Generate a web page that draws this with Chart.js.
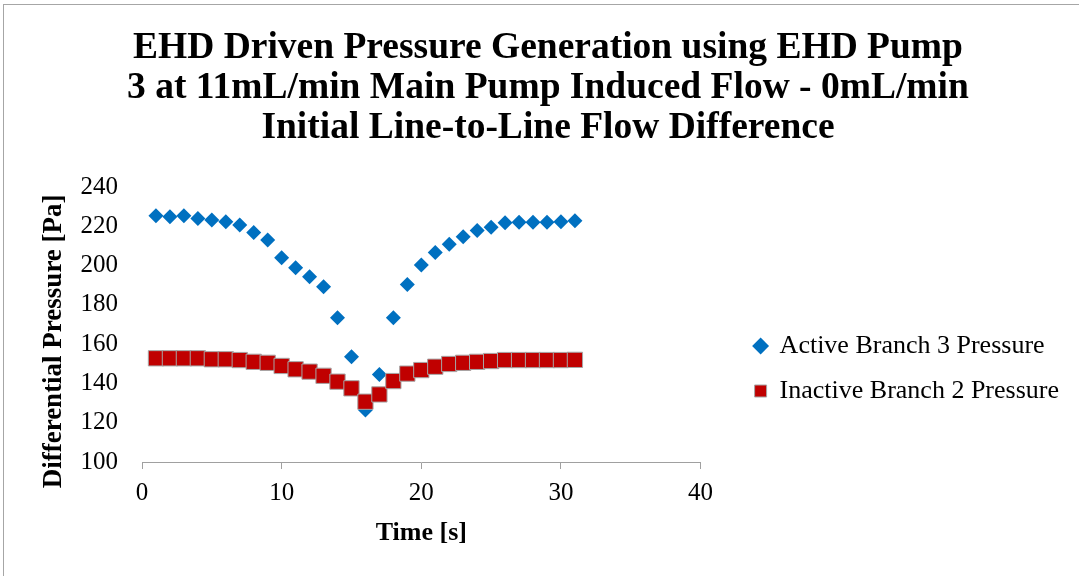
<!DOCTYPE html>
<html>
<head>
<meta charset="utf-8">
<script src="https://cdn.jsdelivr.net/npm/chart.js@4/dist/chart.umd.min.js"></script>
<style>
  body { margin: 0; background: #fff; }
  #wrap { width: 1079px; height: 576px; }
</style>
</head>
<body>
<div id="wrap"><canvas id="pressureChart" width="1079" height="576"></canvas></div>
<script>
// values
const timeSec = [1, 2, 3, 4, 5, 6, 7, 8, 9, 10, 11, 12, 13, 14, 15, 16,
  17, 18, 19, 20, 21, 22, 23, 24, 25, 26, 27, 28, 29, 30, 31];
const activeBranch3 = [225.4, 224.9, 225.4, 224.0, 223.2, 222.3, 220.6, 216.9, 213.0, 204.0,
  198.9, 194.3, 189.2, 173.5, 153.6, 126.5, 144.6, 173.5, 190.4, 200.3,
  206.7, 210.8, 214.7, 217.8, 219.5, 221.8, 222.0, 222.0, 222.0, 222.3, 222.8];
const inactiveBranch2 = [152.8, 152.8, 152.8, 152.8, 152.3, 152.3, 151.9, 151.0, 150.5, 148.9,
  147.2, 146.0, 143.9, 140.9, 137.5, 130.7, 134.4, 141.2, 145.0, 146.8,
  148.5, 149.9, 150.5, 151.0, 151.4, 151.9, 151.9, 151.9, 151.9, 151.9, 152.0];
const seriesNames = ['Active Branch 3 Pressure', 'Inactive Branch 2 Pressure'];
const titleLines = ['EHD Driven Pressure Generation using EHD Pump',
  '3 at 11mL/min Main Pump Induced Flow - 0mL/min',
  'Initial Line-to-Line Flow Difference'];
const xTitle = 'Time [s]';
const yTitle = 'Differential Pressure [Pa]';

const serif = "'Liberation Serif', 'Times New Roman', serif";

function toPoints(xs, ys) {
  return xs.map((x, i) => ({x: x, y: ys[i]}));
}

// white page with the thin grey frame of the original figure
const frame = {
  id: 'frame',
  beforeDraw(chart) {
    const ctx = chart.ctx;
    ctx.save();
    ctx.fillStyle = '#ffffff';
    ctx.fillRect(0, 0, chart.width, chart.height);
    ctx.strokeStyle = '#a6a6a6';
    ctx.lineWidth = 1;
    ctx.strokeRect(3.5, 4.5, chart.width + 20, chart.height + 20);
    ctx.restore();
  }
};

const data = {
  datasets: [{
    label: seriesNames[0],
    data: toPoints(timeSec, activeBranch3),
    pointStyle: 'rectRot',
    pointRadius: 7.5,
    pointHoverRadius: 7.5,
    backgroundColor: '#0070C0',
    borderColor: '#0070C0',
    borderWidth: 0,
    order: 1
  }, {
    label: seriesNames[1],
    data: toPoints(timeSec, inactiveBranch2),
    pointStyle: 'rect',
    pointRadius: 10.8,
    pointHoverRadius: 10.8,
    backgroundColor: '#C00000',
    borderColor: '#a6a6a6',
    borderWidth: 1,
    order: 0
  }]
};

const config = {
  type: 'scatter',
  data,
  options: {
    responsive: false,
    animation: false,
    layout: {padding: {left: 27, right: 10, top: 0, bottom: 27}},
    plugins: {
      tooltip: {enabled: false},
      title: {
        display: true,
        text: titleLines,
        color: '#000',
        font: {family: serif, size: 37.5, weight: 'bold', lineHeight: 40 / 37.5},
        padding: {top: 28, bottom: 39}
      },
      legend: {
        position: 'right',
        fullSize: false,
        maxWidth: 400,
        title: {display: true, text: '', font: {size: 10, lineHeight: 1}, padding: {top: 78, bottom: 0}},
        labels: {
          usePointStyle: true,
          boxWidth: 12,
          boxHeight: 12,
          padding: 19,
          color: '#000',
          font: {family: serif, size: 26},
          sort: (a, b) => a.datasetIndex - b.datasetIndex
        }
      }
    },
    scales: {
      x: {
        type: 'linear',
        min: 0,
        max: 40,
        ticks: {stepSize: 10, color: '#000', padding: 9, font: {family: serif, size: 25}},
        grid: {drawOnChartArea: false, drawTicks: true, tickLength: 7, color: '#a0a0a0'},
        border: {display: true, color: '#a0a0a0'},
        title: {display: true, text: xTitle, color: '#000',
          font: {family: serif, size: 26, weight: 'bold'}, padding: 0},
        afterFit(scale) { scale.height = 87; }
      },
      y: {
        type: 'linear',
        min: 100,
        max: 240,
        ticks: {stepSize: 20, color: '#000', padding: 24, font: {family: serif, size: 25}},
        grid: {display: false, drawTicks: false},
        border: {display: false},
        title: {display: true, text: yTitle + '     ', color: '#000',
          font: {family: serif, size: 27, weight: 'bold'}, padding: {top: 11, bottom: 0}},
        afterFit(scale) { scale.width = 115; }
      },
      // empty spacer between plot and legend
      gap: {
        type: 'linear',
        position: 'right',
        display: true,
        ticks: {display: false},
        grid: {display: false, drawTicks: false},
        border: {display: false},
        afterFit(scale) { scale.width = 35; }
      }
    }
  },
  plugins: [frame]
};

const myChart = new Chart(document.getElementById('pressureChart'), config);
</script>
</body>
</html>
